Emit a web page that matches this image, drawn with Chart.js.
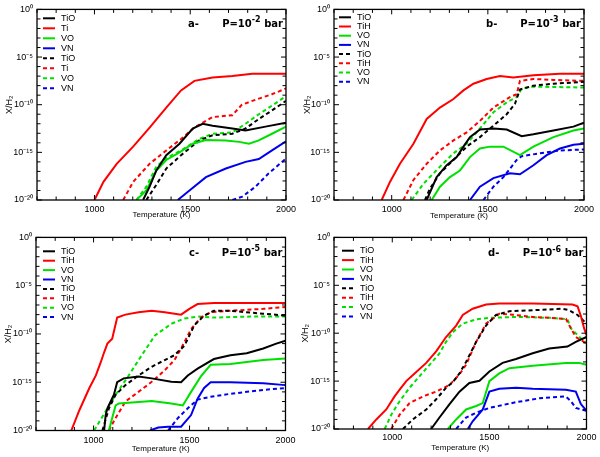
<!DOCTYPE html>
<html>
<head>
<meta charset="utf-8">
<script src="https://cdn.jsdelivr.net/npm/chart.js@4.4.0/dist/chart.umd.min.js"></script>
<style>
html, body { margin: 0; padding: 0; background: #fff; }
#wrap { position: relative; width: 600px; height: 457px; overflow: hidden; }
canvas { position: absolute; }
</style>
</head>
<body>
<div id="wrap">
  <canvas id="pa" width="300" height="228" style="left:0;top:0"></canvas>
  <canvas id="pb" width="300" height="228" style="left:300px;top:0"></canvas>
  <canvas id="pc" width="300" height="229" style="left:0;top:228px"></canvas>
  <canvas id="pd" width="300" height="229" style="left:300px;top:228px"></canvas>
</div>
<script>
// axes
const xTickValues = [1000, 1500, 2000];
const xTickLabels = ['1000', '1500', '2000'];
const xMinorTicks = [700, 800, 900, 1000, 1100, 1200, 1300, 1400, 1500, 1600, 1700, 1800, 1900, 2000];
const yTickExps = [-20, -15, -10, -5, 0];
const yTickLabels = ['10⁻²⁰', '10⁻¹⁵', '10⁻¹⁰', '10⁻⁵', '10⁰'];
const yMinorExps = [-20, -19, -18, -17, -16, -15, -14, -13, -12, -11, -10, -9, -8, -7, -6, -5, -4, -3, -2, -1, 0];

const colors = ['#000000', '#ff0000', '#00e000', '#0000ee'];

// values are [temperature K, log10(X/H2)]
// panel a, P = 1e-2 bar
const aTiO  = [[1254,-20],[1288,-18.6],[1323,-16.9],[1375,-15.3],[1444,-14.1],[1513,-12.5],[1565,-12.0],[1617,-12.2],[1720,-12.5],[1789,-12.7],[1893,-12.3],[2000,-11.9]];
const aTi   = [[1000,-20],[1047,-18.1],[1116,-16.2],[1202,-14.4],[1288,-12.4],[1375,-10.3],[1452,-8.5],[1522,-7.5],[1617,-7.15],[1720,-6.98],[1824,-6.74],[2000,-6.74]];
const aVO   = [[1219,-20],[1271,-19],[1323,-16.9],[1375,-15.8],[1444,-15.0],[1513,-14.1],[1582,-13.7],[1686,-13.75],[1755,-13.9],[1807,-14.1],[1858,-13.75],[1927,-13.05],[2000,-12.3]];
const aVN   = [[1435,-20],[1496,-19.0],[1582,-17.6],[1686,-16.7],[1789,-16.0],[1858,-15.7],[1927,-14.8],[2000,-13.85]];
const aTiOd = [[1271,-20],[1323,-18.4],[1375,-16.7],[1452,-15.3],[1547,-13.75],[1617,-13.2],[1720,-13.05],[1789,-12.5],[1858,-11.5],[1927,-10.6],[2000,-9.6]];
const aTid  = [[1150,-20],[1202,-18.1],[1288,-16.2],[1375,-14.8],[1452,-13.6],[1522,-12.4],[1617,-11.3],[1720,-11.1],[1770,-10.0],[1824,-9.6],[1927,-8.9],[2000,-8.3]];
const aVOd  = [[1219,-20],[1271,-18.6],[1323,-16.5],[1375,-15.6],[1452,-14.8],[1547,-13.6],[1617,-13.05],[1720,-12.9],[1789,-12.0],[1858,-11.0],[1927,-10.1],[2000,-9.1]];
const aVNd  = [[1720,-20],[1772,-19.65],[1841,-18.6],[1910,-17.2],[2000,-15.65]];

// panel b, P = 1e-3 bar
const bTiO  = [[1182,-20],[1234,-17.6],[1286,-16.35],[1338,-15.5],[1373,-14.4],[1407,-13.4],[1459,-12.6],[1529,-12.5],[1598,-12.6],[1676,-13.3],[1737,-13.1],[1841,-12.7],[1945,-12.3],[2000,-11.9]];
const bTiH  = [[948,-20],[991,-18.1],[1043,-16.2],[1113,-14.1],[1182,-11.5],[1251,-10.3],[1321,-9.4],[1373,-8.5],[1425,-7.8],[1494,-7.3],[1563,-7.0],[1633,-7.15],[1737,-6.9],[1875,-6.74],[2000,-6.74]];
const bVO   = [[1208,-20],[1251,-18.6],[1303,-17.6],[1355,-16.9],[1407,-15.5],[1459,-14.6],[1511,-14.4],[1581,-14.4],[1667,-15.3],[1737,-14.4],[1841,-13.4],[1945,-12.7],[2000,-12.5]];
const bVN   = [[1407,-20],[1459,-18.6],[1529,-17.7],[1615,-17.2],[1667,-17.3],[1737,-16.35],[1806,-15.3],[1875,-14.6],[1945,-14.2],[2000,-14.1]];
const bTiOd = [[1173,-20],[1199,-18.8],[1251,-17.2],[1321,-15.8],[1390,-14.4],[1459,-13.4],[1529,-12.2],[1598,-11.0],[1641,-9.9],[1667,-8.4],[1737,-8.0],[1841,-7.8],[2000,-7.6]];
const bTiHd = [[1061,-20],[1113,-17.9],[1182,-16.2],[1251,-14.8],[1321,-13.75],[1390,-12.9],[1459,-11.7],[1529,-10.3],[1615,-9.2],[1650,-8.9],[1667,-7.5],[1737,-7.3],[1841,-7.4],[2000,-7.5]];
const bVOd  = [[1104,-20],[1165,-18.3],[1251,-16.5],[1321,-15.1],[1390,-14.1],[1459,-12.5],[1529,-10.8],[1598,-9.75],[1650,-9.2],[1676,-8.3],[1737,-8.1],[2000,-8.2]];
const bVNd  = [[1477,-20],[1529,-18.6],[1581,-17.6],[1650,-15.8],[1676,-15.4],[1771,-15.1],[1875,-14.8],[2000,-14.7]];

// panel c, P = 1e-5 bar
const cTiO  = [[1055,-20],[1063,-18.4],[1072,-17.7],[1089,-17.0],[1106,-16.3],[1123,-15.0],[1157,-14.6],[1234,-14.4],[1303,-14.6],[1405,-14.96],[1456,-15.0],[1491,-14.3],[1542,-13.6],[1627,-12.6],[1713,-12.2],[1798,-12.0],[1884,-11.5],[1952,-11.0],[2000,-10.7]];
const cTiH  = [[884,-20],[926,-17.9],[978,-15.6],[1012,-14.3],[1038,-12.9],[1055,-11.9],[1072,-11.0],[1097,-10.5],[1123,-8.3],[1166,-8.0],[1234,-7.75],[1303,-7.6],[1371,-7.75],[1456,-8.0],[1499,-7.4],[1542,-6.9],[1627,-6.8],[1713,-6.8],[2000,-6.8]];
const cVO   = [[1080,-20],[1097,-18.7],[1115,-17.4],[1132,-17.2],[1200,-17.1],[1303,-16.95],[1405,-17.2],[1465,-17.4],[1508,-16.0],[1559,-14.4],[1610,-13.2],[1713,-13.1],[1884,-12.7],[2000,-12.55]];
const cVN   = [[1294,-20],[1337,-19.7],[1388,-19.6],[1456,-19.6],[1508,-18.4],[1542,-16.7],[1576,-15.6],[1610,-15.0],[1713,-15.0],[1884,-15.1],[2000,-15.3]];
const cTiOd = [[1046,-20],[1080,-17.7],[1115,-16.3],[1166,-15.3],[1234,-14.3],[1303,-13.4],[1371,-12.7],[1422,-12.2],[1474,-11.2],[1525,-9.1],[1576,-8.1],[1627,-7.6],[1713,-7.6],[1884,-7.9],[2000,-8.1]];
const cTiHd = [[1080,-20],[1115,-18.7],[1166,-17.0],[1234,-16.0],[1303,-14.96],[1371,-13.75],[1422,-12.7],[1456,-11.5],[1508,-9.5],[1559,-8.3],[1610,-7.75],[1713,-7.6],[1884,-7.4],[2000,-7.2]];
const cVOd  = [[1003,-20],[1063,-18.0],[1115,-16.3],[1183,-14.3],[1251,-12.2],[1320,-10.15],[1405,-8.95],[1474,-8.4],[1542,-8.2],[1627,-8.3],[1815,-8.2],[2000,-8.2]];
const cVNd  = [[1388,-20],[1440,-18.7],[1491,-17.7],[1542,-16.8],[1610,-16.5],[1713,-16.2],[1884,-15.8],[2000,-15.6]];

// panel d, P = 1e-6 bar
const dTiO  = [[1200,-20],[1243,-18.8],[1295,-17.4],[1346,-16.1],[1397,-15.2],[1449,-14.97],[1500,-14.0],[1568,-13.1],[1637,-12.7],[1723,-12.1],[1808,-11.6],[1902,-11.4],[1945,-10.9],[2000,-10.4]];
const dTiH  = [[875,-20],[918,-19.0],[969,-17.96],[1012,-16.6],[1038,-15.9],[1072,-15.0],[1115,-14.2],[1175,-13.1],[1226,-11.9],[1277,-10.4],[1329,-9.2],[1363,-8.1],[1414,-7.45],[1483,-7.0],[1551,-6.9],[1723,-6.9],[1928,-7.0],[1954,-7.2],[1971,-8.2],[1988,-9.5],[2000,-10.2]];
const dVO   = [[1286,-20],[1329,-19.0],[1380,-17.96],[1432,-17.6],[1466,-17.3],[1500,-15.0],[1551,-14.2],[1603,-13.65],[1723,-13.4],[1894,-13.1],[1962,-13.1],[2000,-13.3]];
const dVN   = [[1389,-20],[1414,-19.2],[1466,-17.96],[1500,-16.1],[1551,-15.8],[1637,-15.7],[1723,-15.8],[1894,-15.9],[1945,-16.1],[1971,-17.4],[2000,-18.1]];
const dTiOd = [[1055,-20],[1106,-19.0],[1175,-17.96],[1226,-16.9],[1277,-15.7],[1312,-15.1],[1346,-14.2],[1380,-13.0],[1432,-10.9],[1483,-9.2],[1534,-8.1],[1603,-7.7],[1723,-7.6],[1877,-7.45],[1911,-7.6],[1954,-8.1],[2000,-9.0]];
const dTiHd = [[995,-20],[1038,-18.5],[1089,-17.3],[1158,-16.6],[1226,-16.1],[1295,-15.4],[1346,-14.3],[1380,-13.3],[1432,-10.9],[1483,-9.0],[1551,-7.96],[1620,-8.07],[1723,-8.3],[1894,-8.5],[1920,-9.5],[1945,-10.4],[2000,-11.07]];
const dVOd  = [[961,-20],[995,-18.5],[1038,-17.1],[1089,-15.7],[1140,-14.5],[1192,-13.3],[1243,-12.1],[1277,-10.9],[1312,-9.9],[1363,-9.0],[1432,-8.55],[1500,-8.4],[1637,-8.3],[1825,-8.4],[1902,-8.55],[1920,-9.5],[1954,-10.2],[2000,-11.07]];
const dVNd  = [[1329,-20],[1380,-18.8],[1432,-18.3],[1500,-17.8],[1637,-17.2],[1757,-16.8],[1894,-16.6],[1920,-17.1],[1945,-17.8],[2000,-18.1]];

const panels = [
  { id: 'pa', letter: 'a-', pexp: '-2', labels: ['TiO','Ti','VO','VN','TiO','Ti','VO','VN'],
    series: [aTiO, aTi, aVO, aVN, aTiOd, aTid, aVOd, aVNd],
    area: { left: 37, right: 287, top: 8, bottom: 200 }, legend: { x: 43, y: 18.3, dy: 10 },
    letterX: 188, textY: 24, xPad: 4, xTitlePad: 8.2, yTitlePad: 4.6 },
  { id: 'pb', letter: 'b-', pexp: '-3', labels: ['TiO','TiH','VO','VN','TiO','TiH','VO','VN'],
    series: [bTiO, bTiH, bVO, bVN, bTiOd, bTiHd, bVOd, bVNd],
    area: { left: 34, right: 284, top: 8, bottom: 200 }, legend: { x: 39, y: 17.3, dy: 9.2 },
    letterX: 186, textY: 24, xPad: 4, xTitlePad: 7.2, yTitlePad: 2 },
  { id: 'pc', letter: 'c-', pexp: '-5', labels: ['TiO','TiH','VO','VN','TiO','TiH','VO','VN'],
    series: [cTiO, cTiH, cVO, cVN, cTiOd, cTiHd, cVOd, cVNd],
    area: { left: 36, right: 290, top: 8, bottom: 202.5 }, legend: { x: 43, y: 23.3, dy: 9.4 },
    letterX: 189, textY: 25, xPad: 4.5, xTitlePad: 3.2, yTitlePad: 3 },
  { id: 'pd', letter: 'd-', pexp: '-6', labels: ['TiO','TiH','VO','VN','TiO','TiH','VO','VN'],
    series: [dTiO, dTiH, dVO, dVN, dTiOd, dTiHd, dVOd, dVNd],
    area: { left: 34, right: 289, top: 8, bottom: 201 }, legend: { x: 42, y: 22.7, dy: 9.4 },
    letterX: 188, textY: 25.7, xPad: 3.5, xTitlePad: 4.2, yTitlePad: 0 }
];

const font = '"Liberation Sans", Arial, sans-serif';

const decorPlugin = {
  id: 'decor',
  afterDraw(chart) {
    const p = chart.options.plugins.decor;
    const { ctx, chartArea: a } = chart;
    const xs = chart.scales.x, ys = chart.scales.y;
    ctx.save();
    ctx.strokeStyle = '#000';
    ctx.lineWidth = 1.3;
    ctx.setLineDash([]);
    ctx.strokeRect(a.left, a.top, a.right - a.left, a.bottom - a.top);
    ctx.lineWidth = 1;
    ctx.beginPath();
    xMinorTicks.forEach(v => {
      const px = xs.getPixelForValue(v);
      const len = xTickValues.includes(v) ? 5 : 3.5;
      ctx.moveTo(px, a.bottom); ctx.lineTo(px, a.bottom - len);
      ctx.moveTo(px, a.top); ctx.lineTo(px, a.top + len);
    });
    yMinorExps.forEach(e => {
      const py = ys.getPixelForValue(Math.pow(10, e));
      const len = yTickExps.includes(e) ? 5 : 3.5;
      ctx.moveTo(a.left, py); ctx.lineTo(a.left + len, py);
      ctx.moveTo(a.right, py); ctx.lineTo(a.right - len, py);
    });
    ctx.stroke();

    // legend
    ctx.font = '9px ' + font;
    ctx.textBaseline = 'middle';
    ctx.textAlign = 'left';
    chart.data.datasets.forEach((ds, i) => {
      const y = p.legend.y + i * p.legend.dy;
      ctx.strokeStyle = ds.borderColor;
      ctx.lineWidth = 2;
      ctx.setLineDash(ds.borderDash || []);
      ctx.beginPath();
      ctx.moveTo(p.legend.x, y);
      ctx.lineTo(p.legend.x + 12, y);
      ctx.stroke();
      ctx.fillStyle = '#000';
      ctx.fillText(ds.label, p.legend.x + 18, y);
    });
    ctx.setLineDash([]);

    // panel label and pressure
    ctx.fillStyle = '#000';
    const big = 'bold 10px "DejaVu Sans", sans-serif';
    const sup = 'bold 8px "DejaVu Sans", sans-serif';
    ctx.font = big;
    ctx.fillText(p.letter, p.letterX, p.textY);
    const t1 = 'P=10', t3 = ' bar';
    const w1 = ctx.measureText(t1).width, w3 = ctx.measureText(t3).width;
    ctx.font = sup;
    const w2 = ctx.measureText(p.pexp).width;
    let x = a.right - 3 - (w1 + w2 + w3);
    ctx.font = big;
    ctx.fillText(t1, x, p.textY);
    ctx.font = sup;
    ctx.fillText(p.pexp, x + w1, p.textY - 4);
    ctx.font = big;
    ctx.fillText(t3, x + w1 + w2, p.textY);
    ctx.restore();
  }
};

function makePanel(p) {
  const canvas = document.getElementById(p.id);
  const W = canvas.width, H = canvas.height;
  const datasets = p.series.map((s, i) => ({
    label: p.labels[i],
    data: s.map(q => ({ x: q[0], y: Math.pow(10, q[1]) })),
    borderColor: colors[i % 4],
    borderWidth: 2,
    borderDash: i < 4 ? [] : [4, 3],
    pointRadius: 0,
    tension: 0,
    fill: false
  }));
  new Chart(canvas, {
    type: 'line',
    data: { datasets },
    options: {
      responsive: false,
      animation: false,
      layout: { padding: { top: p.area.top, right: W - p.area.right, left: 0, bottom: 0 } },
      plugins: { legend: { display: false }, tooltip: { enabled: false }, decor: p },
      scales: {
        x: {
          type: 'linear', min: 700, max: 2000,
          grid: { display: false, drawTicks: false, tickLength: 0 }, border: { display: false },
          afterBuildTicks: s => { s.ticks = xTickValues.map(v => ({ value: v })); },
          afterFit: s => { s.height = H - p.area.bottom; },
          ticks: {
            autoSkip: false, maxRotation: 0, padding: p.xPad, color: '#000',
            font: { family: font, size: 9 },
            callback: v => { const k = xTickValues.indexOf(v); return k >= 0 ? xTickLabels[k] : ''; }
          },
          title: { display: true, text: 'Temperature (K)', color: '#000',
                   font: { family: font, size: 8 }, padding: { top: 0, bottom: p.xTitlePad } }
        },
        y: {
          type: 'logarithmic', min: 1e-20, max: 1,
          grid: { display: false, drawTicks: false, tickLength: 0 }, border: { display: false },
          afterBuildTicks: s => { s.ticks = yTickExps.map(e => ({ value: Math.pow(10, e) })); },
          afterFit: s => { s.width = p.area.left; },
          ticks: {
            autoSkip: false, padding: 4, color: '#000',
            font: { family: font, size: 9 },
            callback: v => { const k = yTickExps.indexOf(Math.round(Math.log10(v))); return k >= 0 ? yTickLabels[k] : ''; }
          },
          title: { display: true, text: 'X/H₂', color: '#000',
                   font: { family: font, size: 9 }, padding: { top: p.yTitlePad, bottom: 0 } }
        }
      }
    },
    plugins: [decorPlugin]
  });
}

panels.forEach(makePanel);
</script>
</body>
</html>
